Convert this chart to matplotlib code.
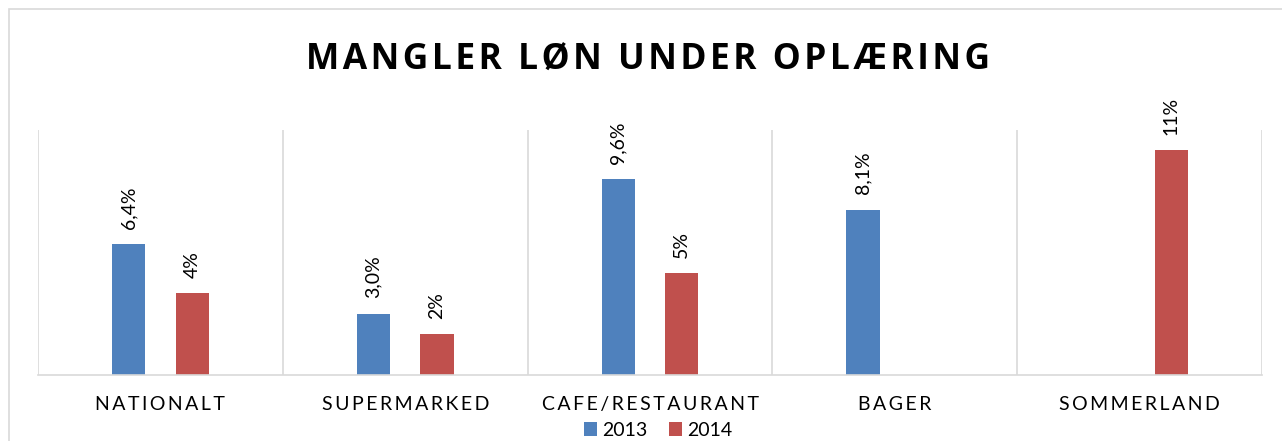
import matplotlib
matplotlib.use("Agg")
import matplotlib.pyplot as plt
import numpy as np
from matplotlib.patches import Rectangle

# data
categories = ["NATIONALT", "SUPERMARKED", "CAFE/RESTAURANT", "BAGER", "SOMMERLAND"]
v2013 = [6.4, 3.0, 9.6, 8.1, np.nan]
v2014 = [4.0, 2.0, 5.0, np.nan, 11.0]
series_names = ["2013", "2014"]

blue = "#4F81BD"
red = "#C0504D"
grid = "#D9D9D9"
fam = ["Lato", "DejaVu Sans"]
TS = "\u2009"  # thin space for letter spacing
HS = "\u200A"  # hair space


def spaced(s, sep=TS):
    return sep.join(s)


fig = plt.figure(figsize=(12.82, 4.41), dpi=100)
fig.patches.append(Rectangle((9 / 1282, -0.05), 1.1, 1 - 9 / 441 + 0.05,
                             transform=fig.transFigure, fill=False,
                             edgecolor=grid, lw=1.2))
ax = fig.add_axes([38 / 1282, 1 - 375 / 441, (1262 - 38) / 1282, (375 - 130) / 441])

x = np.arange(len(categories))
w = 0.136
off = 0.13
b1 = ax.bar(x - off, v2013, w, color=blue, label=series_names[0])
b2 = ax.bar(x + off, v2014, w, color=red, label=series_names[1])

for xi, v in zip(x - off, v2013):
    if not np.isnan(v):
        ax.annotate(f"{v:.1f}".replace(".", ",") + "%", (xi, v), xytext=(0, 11),
                    textcoords="offset points", rotation=90, ha="center", va="bottom",
                    fontsize=14, family=fam, color="#000000")
for xi, v in zip(x + off, v2014):
    if not np.isnan(v):
        ax.annotate(f"{v:.0f}%", (xi, v), xytext=(0, 11),
                    textcoords="offset points", rotation=90, ha="center", va="bottom",
                    fontsize=14, family=fam, color="#000000")

ax.set_xlim(-0.5, len(categories) - 0.5)
ax.set_ylim(0, 12)
for b in np.arange(-0.5, len(categories), 1.0):
    ax.axvline(b, color=grid, lw=1.2, zorder=0)

ax.set_xticks(x)
ax.set_xticklabels([spaced(c) for c in categories], family=fam, fontsize=14)
ax.tick_params(axis="x", length=0, pad=15)
ax.set_yticks([])
for s in ["top", "left", "right"]:
    ax.spines[s].set_visible(False)
ax.spines["bottom"].set_color(grid)
ax.spines["bottom"].set_linewidth(1.2)

fig.text(648 / 1282, 1 - 61 / 441, spaced("MANGLER LØN UNDER OPLÆRING", HS), ha="center", va="center",
         fontsize=25.5, fontweight="bold", family=["Open Sans", "DejaVu Sans"])

fig.legend(handles=[b1, b2], labels=series_names, loc="center",
           bbox_to_anchor=(658 / 1282, 1 - 430 / 441), ncol=2, frameon=False,
           prop={"family": fam, "size": 14}, handlelength=0.7, handleheight=0.7,
           handletextpad=0.25, columnspacing=1.1, borderpad=0)

fig.savefig("out.png", dpi=100)
